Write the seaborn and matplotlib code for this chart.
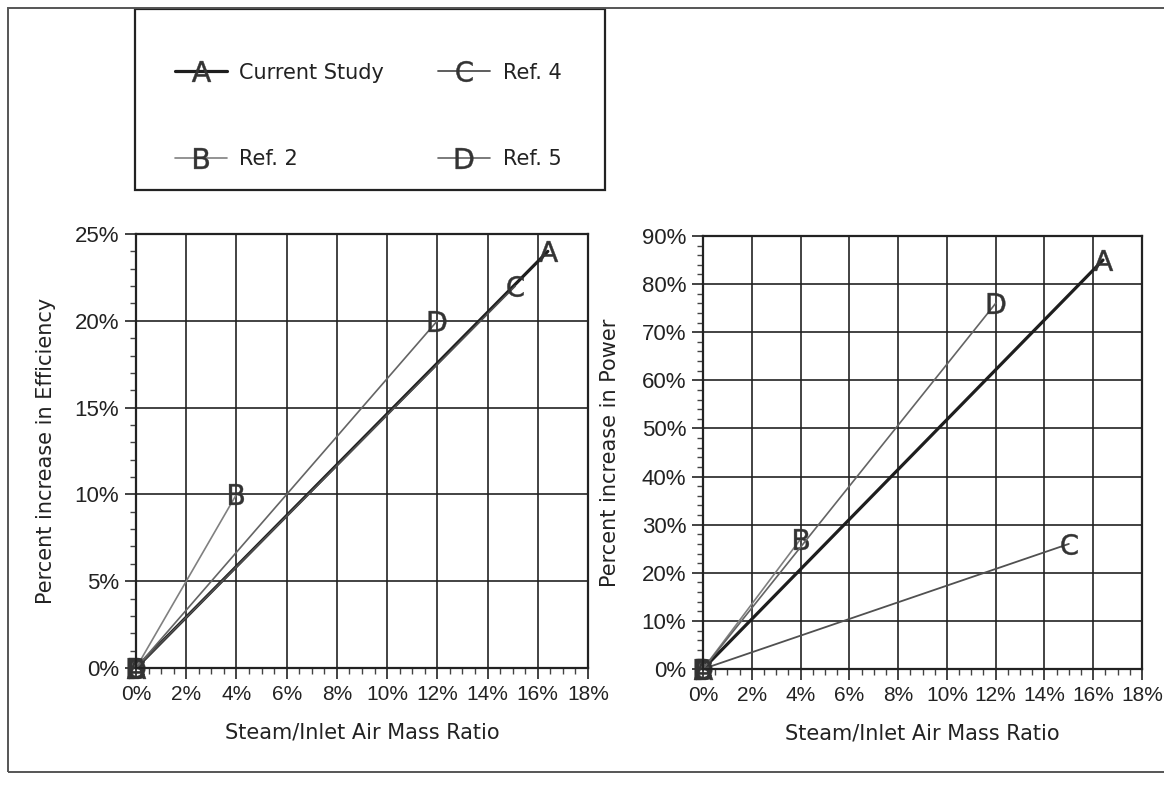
import pandas as pd
import matplotlib.pyplot as plt
import seaborn as sns
from matplotlib.ticker import MultipleLocator, PercentFormatter
from matplotlib.patches import Rectangle

# Series names and the letters used as markers
sources = ["Current Study", "Ref. 2", "Ref. 4", "Ref. 5"]
letters = ["A", "B", "C", "D"]

# Steam / inlet air mass ratio (%) at the end point of each line (all start at 0)
steam_ratio = [16.4, 4.0, 15.1, 12.0]
# Percent increase in efficiency (%)
eff_increase = [24.0, 10.0, 22.0, 20.0]
# Steam ratio end points on the power plot (%)
steam_ratio_pw = [16.4, 4.0, 15.0, 12.0]
# Percent increase in power (%)
power_increase = [85.0, 27.0, 26.0, 76.0]

line_colors = {"Current Study": "#1e1e1e", "Ref. 2": "#808080",
               "Ref. 4": "#505050", "Ref. 5": "#646464"}
line_widths = {"Current Study": 2.3, "Ref. 2": 1.2, "Ref. 4": 1.3, "Ref. 5": 1.2}
marker_map = {s: r"$\mathsf{" + l + "}$" for s, l in zip(sources, letters)}

rows_eff, rows_pw = [], []
for i, s in enumerate(sources):
    rows_eff += [(s, 0.0, 0.0), (s, steam_ratio[i], eff_increase[i])]
    rows_pw += [(s, 0.0, 0.0), (s, steam_ratio_pw[i], power_increase[i])]
df_eff = pd.DataFrame(rows_eff, columns=["source", "steam", "value"])
df_pw = pd.DataFrame(rows_pw, columns=["source", "steam", "value"])

sns.set_style("white")
plt.rcParams["font.family"] = ["DejaVu Sans"]
plt.rcParams["mathtext.fontset"] = "dejavusans"

fig = plt.figure(figsize=(11.64, 7.85), dpi=100)
ax1 = fig.add_axes([136 / 1164, 1 - 668 / 785, 452 / 1164, 434 / 785])
ax2 = fig.add_axes([703 / 1164, 1 - 669 / 785, 439 / 1164, 433 / 785])

TXT = "#222222"
MK = "#333333"


def draw(ax, data, ymax, ystep, yminor, ylabel, ylab_x):
    sns.lineplot(data=data, x="steam", y="value", hue="source", style="source",
                 size="source", hue_order=sources, style_order=sources,
                 size_order=sources, palette=line_colors, sizes=line_widths,
                 markers=marker_map, dashes=False, markersize=15,
                 markeredgewidth=0.3, markerfacecolor=MK, markeredgecolor=MK,
                 sort=False, clip_on=False, ax=ax, legend=True)
    ax.set_xlim(0, 18)
    ax.set_ylim(0, ymax)
    ax.xaxis.set_major_locator(MultipleLocator(2))
    ax.xaxis.set_minor_locator(MultipleLocator(0.5))
    ax.yaxis.set_major_locator(MultipleLocator(ystep))
    ax.yaxis.set_minor_locator(MultipleLocator(yminor))
    ax.xaxis.set_major_formatter(PercentFormatter(decimals=0))
    ax.yaxis.set_major_formatter(PercentFormatter(decimals=0))
    ax.grid(True, which="major", color=TXT, linewidth=1.2)
    ax.tick_params(which="major", direction="out", length=8, width=1.2,
                   colors=TXT, bottom=True, left=True, pad=4)
    ax.tick_params(axis="x", which="major", labelsize=15)
    ax.tick_params(axis="y", which="major", labelsize=16)
    ax.tick_params(which="minor", direction="out", length=4, width=1.0,
                   colors="#444444", bottom=True, left=True)
    for lab in ax.get_xticklabels() + ax.get_yticklabels():
        lab.set_fontfamily("Liberation Sans")
    for sp in ax.spines.values():
        sp.set_color(TXT)
        sp.set_linewidth(1.6)
    ax.set_xlabel("Steam/Inlet Air Mass Ratio", fontsize=15, color=TXT)
    ax.set_ylabel(ylabel, fontsize=15, color=TXT)
    ax.xaxis.set_label_coords(0.5, -0.125)
    ax.yaxis.set_label_coords(ylab_x, 0.5)


draw(ax1, df_eff, 25, 5, 1, "Percent increase in Efficiency", -0.178)
draw(ax2, df_pw, 90, 10, 2, "Percent increase in Power", -0.19)

handles, labels = ax1.get_legend_handles_labels()
ax1.get_legend().remove()
ax2.get_legend().remove()
for h in handles:
    h.set_markersize(15)
    h.set_markerfacecolor(MK)
    h.set_markeredgecolor(MK)
    h.set_markeredgewidth(0.3)
leg = fig.legend(handles, labels, ncol=2, loc="center",
                 bbox_to_anchor=(368 / 1164, 1 - 116 / 785),
                 fontsize=15, frameon=False, handlelength=2.5,
                 labelspacing=3.2, handletextpad=0.6, columnspacing=2.6)
for t in leg.get_texts():
    t.set_color(TXT)

# legend box
fig.patches.append(Rectangle((135 / 1164, 1 - 190 / 785), 470 / 1164, 181 / 785,
                             transform=fig.transFigure, fill=False,
                             edgecolor=TXT, linewidth=1.6))
# outer frame of the figure
fig.patches.append(Rectangle((8 / 1164, 1 - 772 / 785), 1.2, 764 / 785,
                             transform=fig.transFigure, fill=False,
                             edgecolor="#555555", linewidth=1.4))

fig.savefig("out.png", dpi=100)
